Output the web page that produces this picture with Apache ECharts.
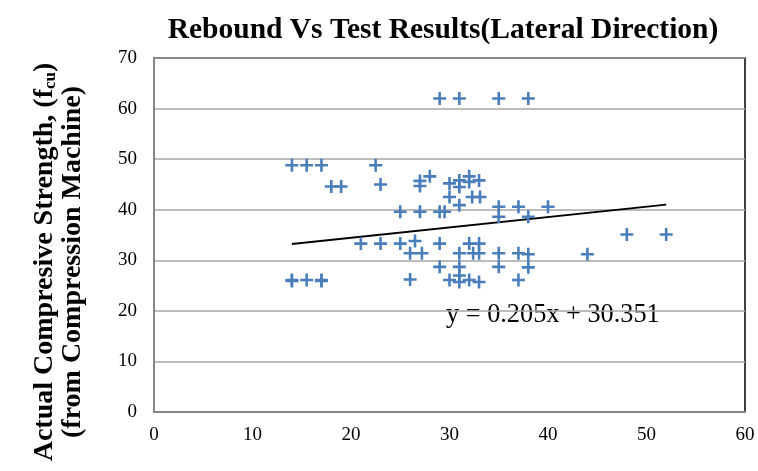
<!DOCTYPE html>
<html><head><meta charset="utf-8">
<script src="https://cdn.jsdelivr.net/npm/echarts@6/dist/echarts.min.js"></script>
<style>html,body{margin:0;padding:0;background:#fff}#c{width:758px;height:471px}</style>
</head><body><div id="c"></div>
<script>
const titleText = 'Rebound Vs Test Results(Lateral Direction)';
const reboundX = [29,31,35,38, 14,15.5,17,22.5, 18,19, 23, 27,27,28,
  30,30,31,31,32,32,33,32.3,33.1, 31,
  25,27,29,29.5,35,35,37,38,40, 48,52,
  21,23,25,26.5, 26,27.2,29,29,31,31,31,30,31,32,33,32,33,33,32.4,35,35,37,37,38,38,44,
  14,15.5,17,26,14,17];
const strengthY = [62,62,62,62, 48.8,48.8,48.8,48.8, 44.6,44.6, 45, 45.7,44.7,46.6,
  45.2,42.5,45.8,44.5,46.6,45.5,45.8,42.5,42.5, 40.9,
  39.6,39.6,39.6,39.6,40.6,38.6,40.6,38.6,40.6, 35.1,35.1,
  33.3,33.3,33.3,33.8, 31.4,31.4,33.3,28.7,31.4,28.7,27,26.1,25.7,26.1,25.7,33.3,33.3,31.4,31.4,31.4,28.7,31.4,26.1,31.2,28.6,31.2,
  26.1,26.1,26.1,26.2,25.9,25.9];
const trendSlope = 0.205, trendIntercept = 30.351;
const xTicks = [0,10,20,30,40,50,60];
const yTicks = [0,10,20,30,40,50,60,70];

const pts = reboundX.map((x,i)=>[x,strengthY[i]]);
const xMin = Math.min(...reboundX), xMax = Math.max(...reboundX);
const trend = [[xMin, trendSlope*xMin+trendIntercept],[xMax, trendSlope*xMax+trendIntercept]];
const plus = 'path://M4,0 H6 V4 H10 V6 H6 V10 H4 V6 H0 V4 H4 Z';
const serif = '"Liberation Serif","Times New Roman",serif';

const chart = echarts.init(document.getElementById('c'));
chart.setOption({
  animation:false,
  backgroundColor:'#fff',
  title:{text:titleText,left:438,top:10,textAlign:'center',
    textStyle:{fontFamily:serif,fontWeight:'bold',fontSize:29.5,color:'#000'}},
  grid:{left:154,right:13,top:58,bottom:59,show:true,borderColor:'#000',borderWidth:1.5},
  xAxis:{type:'value',min:xTicks[0],max:xTicks[xTicks.length-1],interval:10,
    axisLine:{show:true,onZero:false,lineStyle:{color:'#868686',width:2}},
    axisTick:{show:false},splitLine:{show:false},
    axisLabel:{fontFamily:serif,fontSize:19,color:'#000',margin:14}},
  yAxis:{type:'value',min:yTicks[0],max:yTicks[yTicks.length-1],interval:10,
    axisLine:{show:true,lineStyle:{color:'#868686',width:2}},
    axisTick:{show:false},
    splitLine:{show:true,lineStyle:{color:'#a6a6a6',width:1.5}},
    axisLabel:{fontFamily:serif,fontSize:19,color:'#000',margin:17}},
  series:[
    {type:'scatter',data:pts,symbol:plus,symbolSize:13,itemStyle:{color:'#4a7ebb',opacity:1},z:3},
    {type:'line',data:trend,symbol:'none',lineStyle:{color:'#000',width:1.8},z:2,silent:true}
  ],
  graphic:[
    {type:'text',left:446,top:302,style:{text:'y = 0.205x + 30.351',fontFamily:serif,fontSize:26.3,fill:'#000'}},
    {type:'text',x:59,y:262,rotation:Math.PI/2,
     style:{text:'{b|Actual Compresive Strength, (f}{s|cu}{b|)}\n{b|(from Compression Machine)}',
       align:'center',verticalAlign:'middle',fill:'#000',
       fontFamily:serif,fontWeight:'bold',fontSize:28,lineHeight:28,
       rich:{b:{fontFamily:serif,fontWeight:'bold',fontSize:28,fill:'#000',lineHeight:28},
             s:{fontFamily:serif,fontWeight:'bold',fontSize:17,fill:'#000',verticalAlign:'bottom',lineHeight:22}}}}
  ]
});
</script></body></html>
